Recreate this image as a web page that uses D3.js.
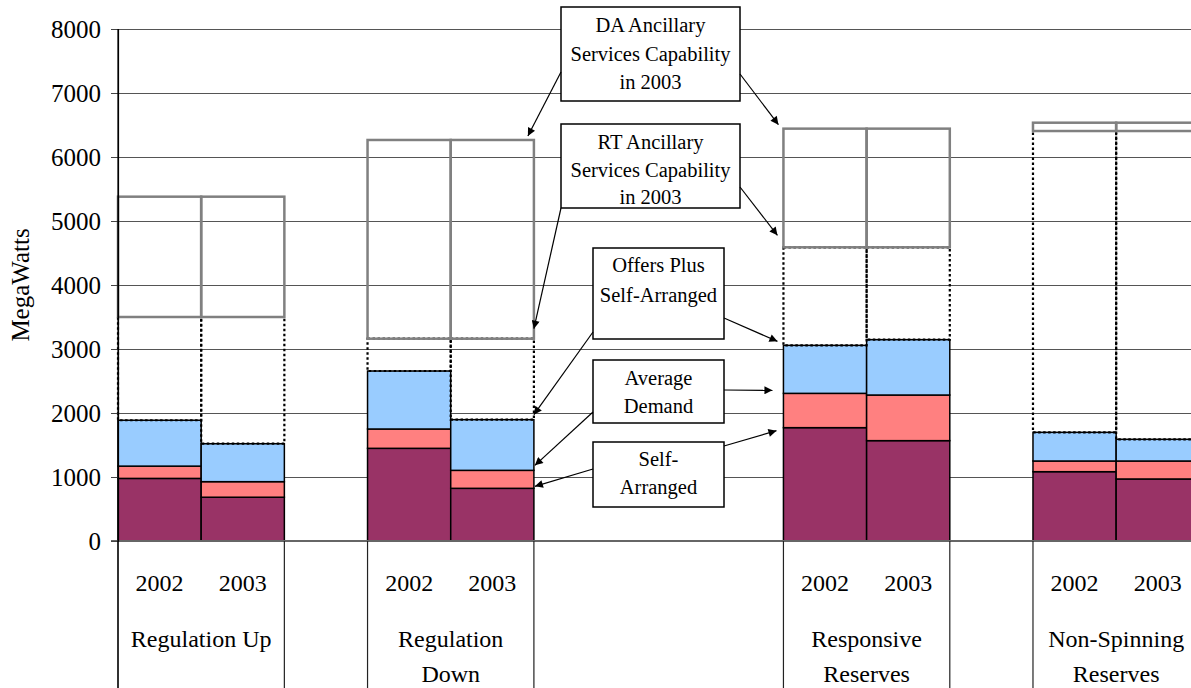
<!DOCTYPE html>
<html><head><meta charset="utf-8">
<script src="https://cdn.jsdelivr.net/npm/d3@7"></script>
<style>html,body{margin:0;padding:0;background:#fff;}svg{display:block;font-family:"Liberation Serif","Times New Roman",serif;}</style>
</head><body>
<svg id="chart" width="1191" height="688"></svg>
<script>
// ---- data ----
const groups = [["Regulation Up"], ["Regulation", "Down"], ["Responsive", "Reserves"], ["Non-Spinning", "Reserves"]];
const years = ["2002", "2003"];
// cumulative levels (MW), order: group0-2002, group0-2003, group1-2002, ...
const selfArranged      = [978, 684, 1448, 823, 1771, 1568, 1083, 969];
const averageDemand     = [1170, 927, 1750, 1104, 2307, 2281, 1250, 1250];
const offersPlusSelf    = [1887, 1520, 2656, 1896, 3057, 3146, 1698, 1589];
const rtCapability2003  = [3500, 3500, 3161, 3161, 4589, 4589, 6406, 6406];
const daCapability2003  = [5380, 5380, 6266, 6266, 6443, 6443, 6536, 6536];
const yTicks = [0, 1000, 2000, 3000, 4000, 5000, 6000, 7000, 8000];

// ---- layout ----
const svg = d3.select("#chart");
const W = 1191, H = 688;
const plotLeft = 118, plotTop = 29, plotBottom = 541;
const slotW = 83.18;
// category slots with empty spacer slots between groups
const slots = ["0-0", "0-1", "s1", "1-0", "1-1", "s2", "s3", "s4", "2-0", "2-1", "s5", "3-0", "3-1"];
const x = d3.scaleBand().domain(slots).range([plotLeft, plotLeft + slots.length * slotW]).padding(0);
const y = d3.scaleLinear().domain([0, 8000]).range([plotBottom, plotTop]);

const bars = [];
groups.forEach((g, gi) => years.forEach((yr, yi) => {
  const i = gi * 2 + yi;
  bars.push({key: `${gi}-${yi}`, gi, yi, year: yr,
    sa: selfArranged[i], ad: averageDemand[i], of: offersPlusSelf[i],
    rt: rtCapability2003[i], da: daCapability2003[i]});
}));

// gridlines
svg.append("g").attr("transform", `translate(${plotLeft},0)`)
  .call(d3.axisLeft(y).tickValues(yTicks.filter(d => d > 0)).tickSize(-(W - plotLeft)).tickFormat(""))
  .call(g => g.select(".domain").remove())
  .call(g => g.selectAll("line").attr("stroke", "#555").attr("stroke-width", 1));

// stacked segments
const segs = [
  {lo: d => 0, hi: d => d.sa, fill: "#993366"},
  {lo: d => d.sa, hi: d => d.ad, fill: "#FF8080"},
  {lo: d => d.ad, hi: d => d.of, fill: "#99CCFF"}
];
segs.forEach(s => {
  svg.append("g").selectAll("rect").data(bars).join("rect")
    .attr("x", d => x(d.key)).attr("width", x.bandwidth())
    .attr("y", d => y(s.hi(d))).attr("height", d => y(s.lo(d)) - y(s.hi(d)))
    .attr("fill", s.fill).attr("stroke", "#000").attr("stroke-width", 1.5);
});

// dotted connectors from offers to RT capability
svg.append("g").selectAll("rect").data(bars).join("rect")
  .attr("x", d => x(d.key)).attr("width", x.bandwidth())
  .attr("y", d => y(d.rt)).attr("height", d => y(d.of) - y(d.rt))
  .attr("fill", "none").attr("stroke", "#000").attr("stroke-width", 2.2).attr("stroke-dasharray", "2.5,2.5");

// capability boxes RT..DA
svg.append("g").selectAll("rect").data(bars).join("rect")
  .attr("x", d => x(d.key)).attr("width", x.bandwidth())
  .attr("y", d => y(d.da)).attr("height", d => y(d.rt) - y(d.da))
  .attr("fill", "none").attr("stroke", "#808080").attr("stroke-width", 2.5);

// zero line
svg.append("line").attr("x1", plotLeft - 7).attr("x2", W).attr("y1", y(0)).attr("y2", y(0))
  .attr("stroke", "#666").attr("stroke-width", 2);

// y axis
const yAxis = svg.append("g").attr("transform", `translate(${plotLeft},0)`)
  .call(d3.axisLeft(y).tickValues(yTicks).tickSize(7).tickPadding(10).tickFormat(d3.format("d")));
yAxis.select(".domain").attr("stroke", "#000").attr("stroke-width", 1.2);
yAxis.selectAll("line").attr("stroke", "#444");
yAxis.selectAll("text").attr("font-size", 25).attr("font-family", "Liberation Serif").attr("fill", "#000");

svg.append("text").attr("transform", `translate(29,285) rotate(-90)`)
  .attr("text-anchor", "middle").attr("font-size", 25).text("MegaWatts");

// category dividers below axis
const groupEdges = [];
groups.forEach((g, gi) => {
  groupEdges.push(x(`${gi}-0`));
  groupEdges.push(x(`${gi}-1`) + x.bandwidth());
});
svg.append("g").selectAll("line").data(groupEdges).join("line")
  .attr("x1", d => d).attr("x2", d => d).attr("y1", y(0)).attr("y2", H)
  .attr("stroke", "#222").attr("stroke-width", 1.2);
svg.append("line").attr("x1", plotLeft).attr("x2", plotLeft).attr("y1", plotTop).attr("y2", H).attr("stroke", "#000").attr("stroke-width", 1.2);

// year labels
svg.append("g").selectAll("text").data(bars).join("text")
  .attr("x", d => x(d.key) + x.bandwidth() / 2).attr("y", 591)
  .attr("text-anchor", "middle").attr("font-size", 24).text(d => d.year);

// group labels
groups.forEach((g, gi) => {
  const cx = (x(`${gi}-0`) + x(`${gi}-1`) + x.bandwidth()) / 2;
  g.forEach((line, li) => {
    svg.append("text").attr("x", cx).attr("y", 647 + li * 35)
      .attr("text-anchor", "middle").attr("font-size", 24).text(line);
  });
});

// ---- annotations ----
const defs = svg.append("defs");
defs.append("marker").attr("id", "arr").attr("viewBox", "0 0 10 10").attr("refX", 10).attr("refY", 5)
  .attr("markerWidth", 9).attr("markerHeight", 8).attr("markerUnits", "userSpaceOnUse").attr("orient", "auto")
  .append("path").attr("d", "M0,0 L10,5 L0,10 z").attr("fill", "#000");

const b = k => bars.find(d => d.key === k);
const rdR = x("1-1") + x.bandwidth();
const rrL = x("2-0");
const notes = [
  {x: 561, y: 7, w: 179, h: 94, lines: ["DA Ancillary", "Services Capability", "in 2003"], base: [32, 61, 89],
   arrows: [[561, 72, rdR - 6, y(b("1-1").da) - 4], [740, 74, rrL - 5, y(b("2-0").da) - 4]]},
  {x: 561, y: 124, w: 179, h: 84, lines: ["RT Ancillary", "Services Capability", "in 2003"], base: [149, 177, 204],
   arrows: [[561, 208, rdR, y(b("1-1").rt) - 10], [740, 187, rrL - 6, y(b("2-0").rt) - 12]]},
  {x: 593, y: 248, w: 131, h: 91, lines: ["Offers Plus", "Self-Arranged"], base: [272, 302],
   arrows: [[593, 332, rdR, y(b("1-1").of) - 5], [724, 318, rrL - 6, y(b("2-0").of) - 4]]},
  {x: 593, y: 360, w: 131, h: 63, lines: ["Average", "Demand"], base: [385, 413],
   arrows: [[593, 412, rdR + 1, y(b("1-1").ad) - 5], [724, 390, rrL - 11, y(b("2-0").ad) - 3]]},
  {x: 593, y: 442, w: 131, h: 65, lines: ["Self-", "Arranged"], base: [466, 494],
   arrows: [[593, 469, rdR + 1, y(b("1-1").sa) - 2], [724, 446, rrL - 7, y(b("2-0").sa) + 3]]}
];
notes.forEach(n => {
  svg.append("rect").attr("x", n.x).attr("y", n.y).attr("width", n.w).attr("height", n.h)
    .attr("fill", "#fff").attr("stroke", "#000").attr("stroke-width", 1.5);
  n.lines.forEach((t, i) => svg.append("text").attr("x", n.x + n.w / 2).attr("y", n.base[i])
    .attr("text-anchor", "middle").attr("font-size", 20.5).text(t));
  n.arrows.forEach(a => svg.append("line").attr("x1", a[0]).attr("y1", a[1]).attr("x2", a[2]).attr("y2", a[3])
    .attr("stroke", "#000").attr("stroke-width", 1.2).attr("marker-end", "url(#arr)"));
});
</script>
</body></html>
